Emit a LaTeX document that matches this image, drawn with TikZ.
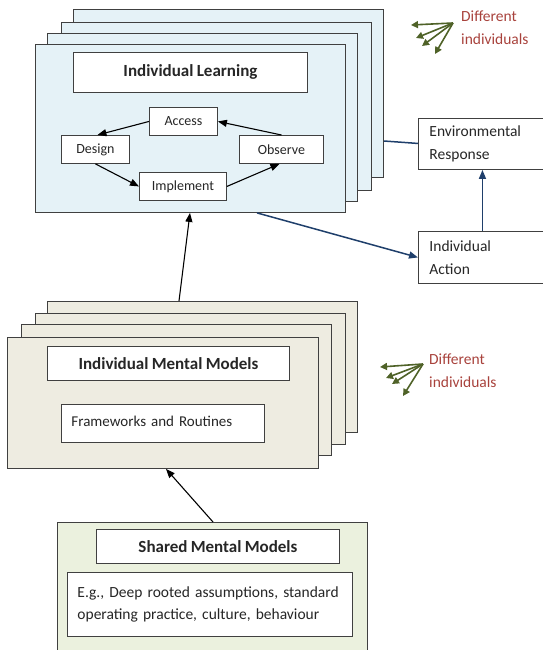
\documentclass[tikz,border=0pt]{standalone}
\usepackage{fontspec}
\setmainfont{Carlito}[WordSpace=0.85]
\usetikzlibrary{arrows.meta,calc}
\definecolor{fillL}{HTML}{E5F2F7}
\definecolor{fillM}{HTML}{EEECE1}
\definecolor{fillS}{HTML}{EBF1DE}
\definecolor{edge}{HTML}{404040}
\definecolor{navy}{HTML}{1F3F6B}
\definecolor{olive}{HTML}{4F6228}
\definecolor{redtxt}{HTML}{A8423C}
\definecolor{txt}{HTML}{262626}
\tikzset{
  panel/.style={draw=edge, line width=0.9pt, inner sep=0, anchor=north west},
  wbox/.style={draw=edge, line width=0.9pt, fill=white, inner sep=0, anchor=north west, text=txt},
  ttl/.style={wbox, font=\fontsize{17}{20}\selectfont\bfseries},
  lbl/.style={wbox, font=\fontsize{14}{17}\selectfont},
  rbox/.style={wbox, font=\fontsize{15.5}{22.5}\selectfont, align=left, inner xsep=11pt, text width=106pt, minimum width=128pt},
  blk/.style={-{Triangle[length=9pt,width=7pt]}, line width=1.1pt, black},
  blu/.style={line width=1.5pt, navy},
  grn/.style={-{Triangle[length=7pt,width=7pt]}, line width=1.6pt, olive},
  note/.style={anchor=north west, inner sep=0, align=left, text=redtxt, font=\fontsize{15.5}{22.5}\selectfont}
}
\begin{document}
\begin{tikzpicture}[x=1pt,y=-1pt]
\useasboundingbox (0,0) rectangle (542,650);
% top stack
\node[panel, fill=fillL, minimum width=310, minimum height=168] (L4) at (73,9) {};
\node[panel, fill=fillL, minimum width=310, minimum height=168] (L3) at (61,22) {};
\node[panel, fill=fillL, minimum width=310, minimum height=168] (L2) at (47,33) {};
\node[panel, fill=fillL, minimum width=310, minimum height=168] (L1) at (35,44) {};
\node[ttl, minimum width=234, minimum height=40] (IL) at (73,52) {Individual Learning};
\node[lbl, minimum width=68, minimum height=28] (acc) at (149,107) {Access};
\node[lbl, minimum width=68, minimum height=28] (des) at (61,135) {Design};
\node[lbl, minimum width=84, minimum height=28] (obs) at (239,135) {Observe};
\node[lbl, minimum width=87, minimum height=28] (imp) at (139,172) {Implement};
\draw[blk] (acc.west) -- ($(des.north)+(2,0)$);
\draw[blk] (obs.north) -- (acc.east);
\draw[blk] (des.south) -- (imp.west);
\draw[blk] (imp.east) -- ($(obs.south)+(-2,0)$);
% middle stack
\node[panel, fill=fillM, minimum width=310, minimum height=131] (M4) at (47,301) {};
\node[panel, fill=fillM, minimum width=310, minimum height=131] (M3) at (35,313) {};
\node[panel, fill=fillM, minimum width=310, minimum height=131] (M2) at (21,324) {};
\node[panel, fill=fillM, minimum width=311, minimum height=131] (M1) at (7,337) {};
\node[ttl, minimum width=242, minimum height=34] (IMM) at (47,346) {Individual Mental Models};
\node[wbox, font=\fontsize{15}{18}\selectfont, minimum width=203, minimum height=38, text width=183pt, inner xsep=10pt, align=left] (FR) at (61,404) {\raisebox{4pt}{Frameworks and Routines}};
% shared
\node[panel, fill=fillS, minimum width=310, minimum height=140] (S) at (57,522) {};
\node[ttl, minimum width=243, minimum height=34] (SMM) at (96,529) {Shared Mental Models};
\node[wbox, font=\fontsize{15.5}{22}\selectfont, minimum width=285, minimum height=64, text width=265pt, inner xsep=10pt, align=left] (EG) at (67,572) {\raisebox{3pt}{E.g., Deep rooted assumptions, standard}\\\raisebox{3pt}{operating practice, culture, behaviour}};
% right boxes
\node[rbox, minimum height=51] (env) at (418,118) {Environmental\\Response};
\node[rbox, minimum height=52] (act) at (418,231) {Individual\\Action};
% connectors
\draw[blk] ($(M4.north west)+(132,0)$) -- ($(L1.south west)+(155,0)$);
\draw[blk] ($(S.north west)+(156,0)$) -- ($(M1.south west)+(159,0)$);
\draw[blu] ($(L4.north east)+(0,132)$) -- ($(env.west)+(0,-0.5)$);
\draw[blu, -{Triangle[length=9pt,width=7pt]}] ($(L1.south west)+(222,0)$) -- (act.west);
\draw[blu, -{Triangle[length=9pt,width=7pt]}] (act.north) -- (env.south);
% different individuals (top)
\coordinate (d1) at (453,23);
\coordinate (d1a) at (411,25);
\coordinate (d1b) at (416,38);
\coordinate (d1c) at (422,46);
\coordinate (d1d) at (435,54);
\foreach \e in {d1a,d1b,d1c,d1d} \draw[grn] (d1) -- (\e);
\node[note] (n1) at (461,11) {Different\\individuals};
% different individuals (middle)
\coordinate (d2) at (423,364);
\coordinate (d2a) at (380,367);
\coordinate (d2b) at (386,378);
\coordinate (d2c) at (392,384);
\coordinate (d2d) at (403,396);
\foreach \e in {d2a,d2b,d2c,d2d} \draw[grn] (d2) -- (\e);
\node[note] (n2) at (429,354) {Different\\individuals};
\end{tikzpicture}
\end{document}
